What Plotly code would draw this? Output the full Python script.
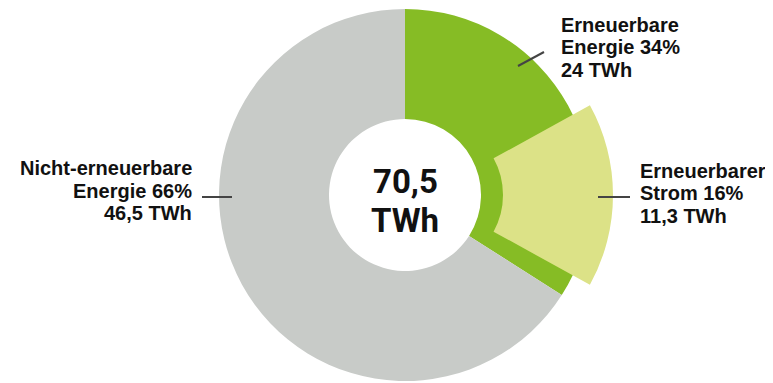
import plotly.graph_objects as go

# ---- data ----
total_twh = 70.5
slice_labels = ["Erneuerbare Energie", "Nicht-erneuerbare Energie"]
slice_values = [24.0, 46.5]
strom_label = "Erneuerbarer Strom"
strom_value = 11.3
center_lines = ["70,5", "TWh"]
ee_lines = ["Erneuerbare", "Energie 34%", "24 TWh"]
strom_lines = ["Erneuerbarer", "Strom 16%", "11,3 TWh"]
ne_lines = ["Nicht-erneuerbare", "Energie 66%", "46,5 TWh"]

# ---- styling ----
PAGE_MARGIN = 8           # default body margin of the html page
W, H = 773 - PAGE_MARGIN, 383 - PAGE_MARGIN
GREEN = "#86BC25"
LIGHT = "#DCE287"
GRAY = "#C8CBC8"
LABEL_FONT = "Liberation Sans"
CENTER_FONT = "Roboto"
TXT = "#111111"

cx, cy, R = 405, 195, 186  # screen-pixel geometry of the donut
hole = 76 / R
offset = 22               # pull of the highlighted slice (px)


def px_x(x):
    return (x - PAGE_MARGIN) / W


def px_y(y):
    return 1 - (y - PAGE_MARGIN) / H


fig = go.Figure()

fig.add_trace(go.Pie(
    values=slice_values, labels=slice_labels, sort=False, direction="clockwise",
    rotation=0, hole=hole, textinfo="none", hoverinfo="label+value",
    marker=dict(colors=[GREEN, GRAY], line=dict(width=0)),
    domain=dict(x=[px_x(cx - R), px_x(cx + R)], y=[px_y(cy + R), px_y(cy - R)]),
    showlegend=False,
))

share = strom_value / total_twh
fig.add_trace(go.Pie(
    values=[strom_value, total_twh - strom_value], labels=[strom_label, ""],
    sort=False, direction="clockwise", rotation=90 - 360 * share / 2,
    hole=hole, textinfo="none", hoverinfo="skip",
    marker=dict(colors=[LIGHT, "rgba(0,0,0,0)"], line=dict(width=0)),
    domain=dict(x=[px_x(cx + offset - R), px_x(cx + offset + R)],
                y=[px_y(cy + R), px_y(cy - R)]),
    showlegend=False,
))


def add_lines(lines, x, y0, step, size, xanchor, family):
    for i, t in enumerate(lines):
        fig.add_annotation(x=px_x(x), y=px_y(y0 + i * step), xref="paper", yref="paper",
                           text="<b>" + t + "</b>", showarrow=False,
                           font=dict(family=family, size=size, color=TXT),
                           xanchor=xanchor, yanchor="middle", borderpad=0)


add_lines(center_lines, cx, 181, 39, 33, "center", CENTER_FONT)
add_lines(ee_lines, 560, 25, 22.5, 20, "left", LABEL_FONT)
add_lines(strom_lines, 639, 171, 22.5, 20, "left", LABEL_FONT)
add_lines(ne_lines, 193, 168, 22.5, 20, "right", LABEL_FONT)

line_style = dict(color="#444444", width=2)
for (x0, y0, x1, y1) in [(518, 66, 544, 52), (598, 197, 630, 197), (202, 197, 232, 197)]:
    fig.add_shape(type="line", xref="paper", yref="paper",
                  x0=px_x(x0), y0=px_y(y0), x1=px_x(x1), y1=px_y(y1), line=line_style)

fig.update_layout(width=W, height=H, margin=dict(l=0, r=0, t=0, b=0),
                  paper_bgcolor="white", plot_bgcolor="white")
fig.write_html("out.html")
